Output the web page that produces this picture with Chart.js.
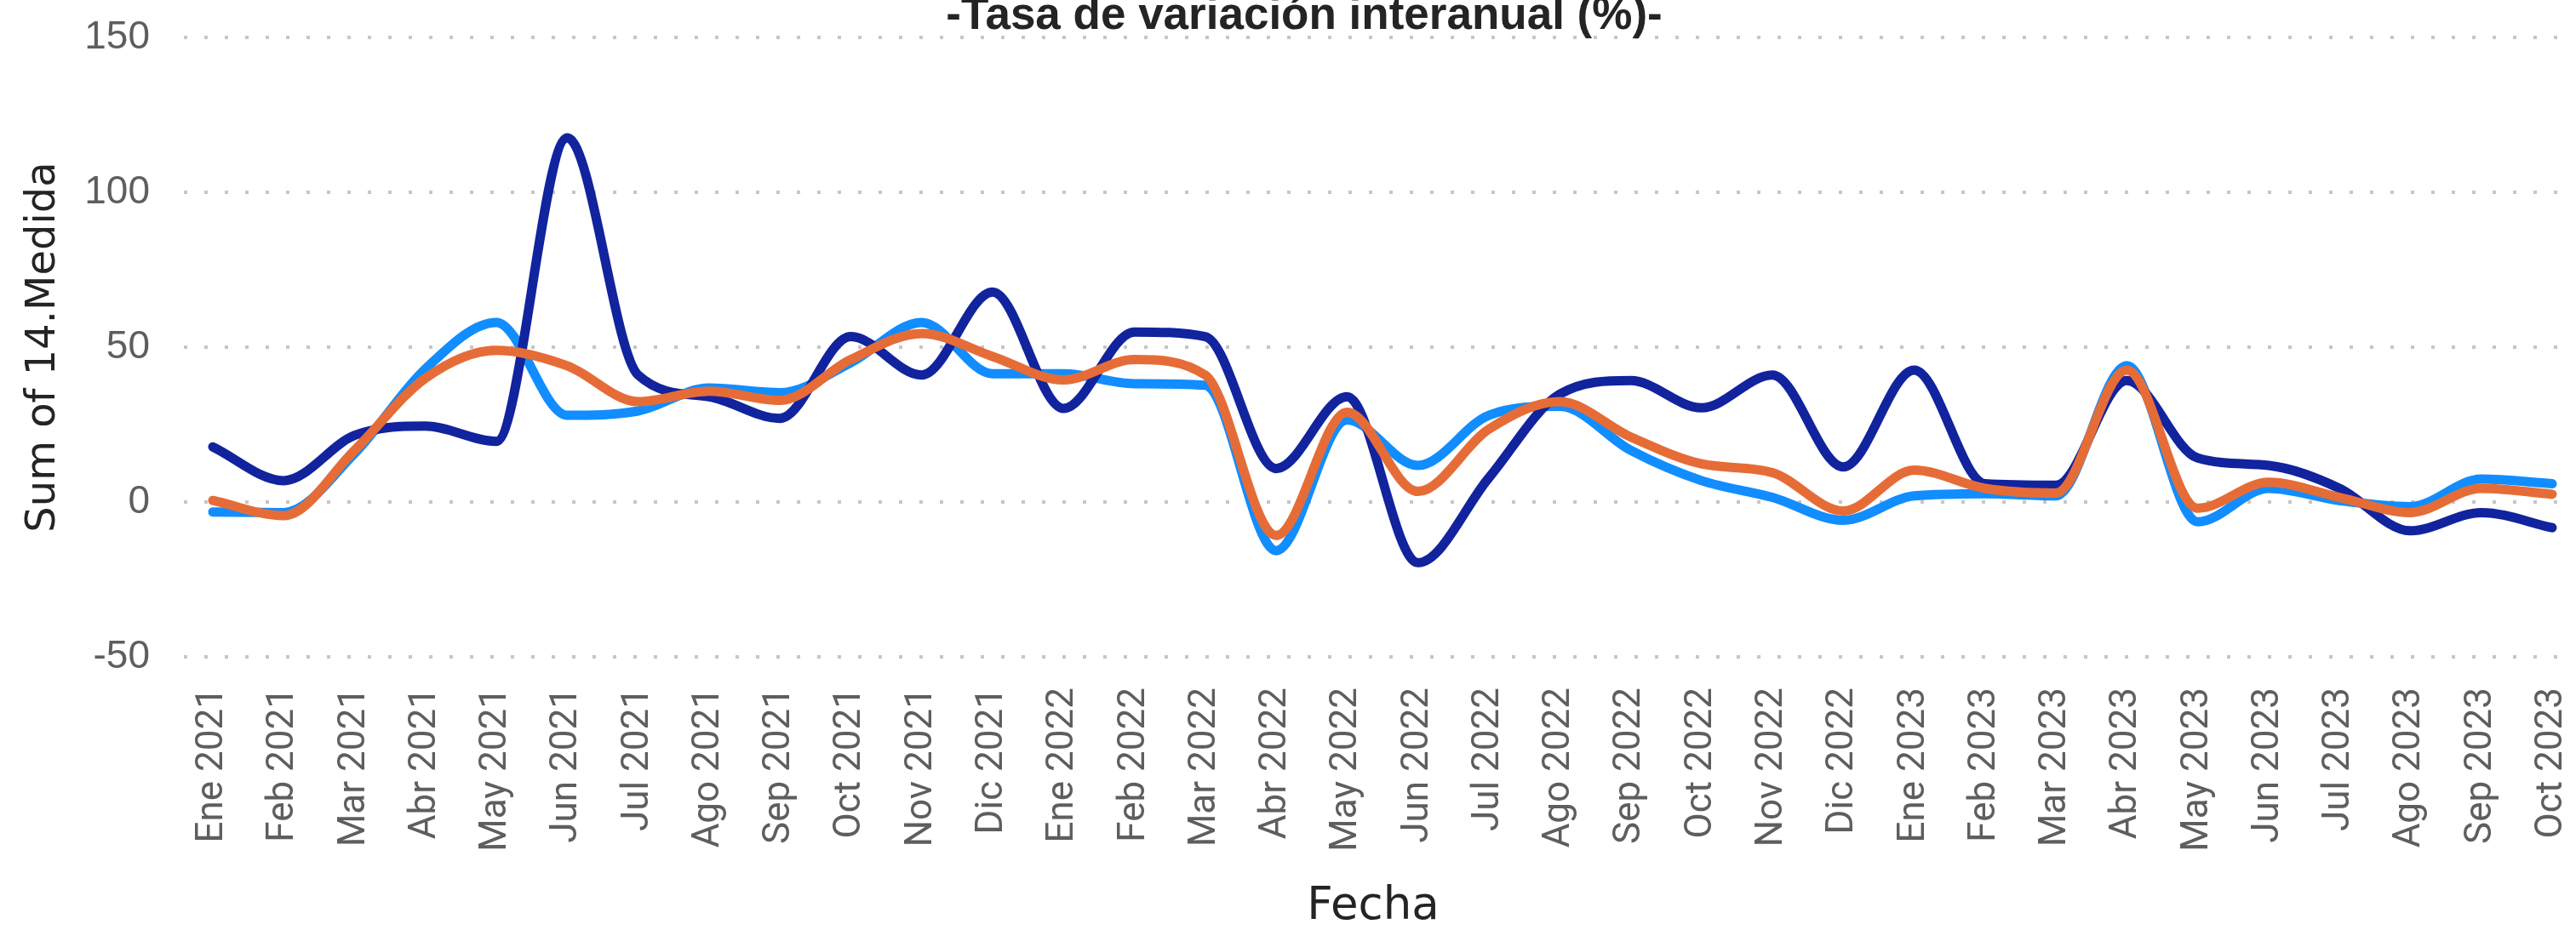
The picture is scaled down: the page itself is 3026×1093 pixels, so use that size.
<!DOCTYPE html>
<html>
<head>
<meta charset="utf-8">
<script src="https://cdn.jsdelivr.net/npm/chart.js@4.4.1/dist/chart.umd.min.js"></script>
<style>
    html, body { margin: 0; padding: 0; background: #ffffff; overflow: hidden; }
    #chart { display: block; }
</style>
</head>
<body>
<canvas id="chart" width="3026" height="1093"></canvas>
<script>
var chartTitle = "-Tasa de variación interanual (%)-";
var xTitle = "Fecha";
var yTitle = "Sum of 14.Medida";

var months = [
    "Ene 2021", "Feb 2021", "Mar 2021", "Abr 2021", "May 2021", "Jun 2021",
    "Jul 2021", "Ago 2021", "Sep 2021", "Oct 2021", "Nov 2021", "Dic 2021",
    "Ene 2022", "Feb 2022", "Mar 2022", "Abr 2022", "May 2022", "Jun 2022",
    "Jul 2022", "Ago 2022", "Sep 2022", "Oct 2022", "Nov 2022", "Dic 2022",
    "Ene 2023", "Feb 2023", "Mar 2023", "Abr 2023", "May 2023", "Jun 2023",
    "Jul 2023", "Ago 2023", "Sep 2023", "Oct 2023"
];

var yTicks = [-50, 0, 50, 100, 150];

// series
var serieOscura = [17.8, 6.9, 21.5, 24.5, 19.6, 117.6, 41, 34, 27, 53.4, 41, 67.8,
    30.2, 54.9, 53.4, 10.8, 34, -19.6, 7.8, 34.8, 39.2, 30.4, 41, 11.3,
    42.6, 5.9, 5.4, 39.2, 14.2, 11.8, 4.4, -9.3, -3.4, -8.3];

var serieClara = [-3.2, -3.4, 15.7, 43, 58, 28, 29.4, 36.8, 35.3, 45, 58, 41.4,
    41.4, 38.2, 37.7, -15.7, 26.5, 11.8, 28, 30.9, 16.7, 6.9, 1.5, -5.9,
    2, 2.7, 2, 44, -6.4, 4.4, 0.5, -1.5, 7.4, 5.9];

var serieNaranja = [0.5, -4.4, 16.7, 40, 49, 44, 32.4, 35.8, 32.8, 46, 54.4, 47,
    39.4, 46, 41, -10.8, 29, 3.4, 23.5, 32.4, 21, 12.3, 9.5, -2.9,
    10.3, 4.4, 2.9, 42.6, -2, 6.4, 1.5, -3.4, 4.4, 2.5];

function toPoints(values) {
    return values.map(function(v, i) { return { x: i, y: v }; });
}

function lineDataset(label, values, color) {
    return {
        label: label,
        data: toPoints(values),
        borderColor: color,
        backgroundColor: color,
        borderWidth: 11,
        pointRadius: 0,
        pointHoverRadius: 0,
        cubicInterpolationMode: 'monotone',
        borderCapStyle: 'round',
        borderJoinStyle: 'round',
        fill: false
    };
}

// title sits partly above the top edge, like in the report
var titlePlugin = {
    id: 'cutTitle',
    afterDraw: function(chart) {
        var ctx = chart.ctx;
        ctx.save();
        ctx.font = 'bold 53px "Liberation Sans", Arial, sans-serif';
        ctx.fillStyle = '#252423';
        ctx.textAlign = 'center';
        ctx.textBaseline = 'alphabetic';
        ctx.fillText(chartTitle, 1532, 34);
        ctx.restore();
    }
};

var ctx = document.getElementById("chart").getContext('2d');

new Chart(ctx, {
    type: 'line',
    data: {
        datasets: [
            lineDataset('Serie 3', serieNaranja, '#E66C37'),
            lineDataset('Serie 2', serieOscura, '#12239E'),
            lineDataset('Serie 1', serieClara, '#118DFF')
        ]
    },
    options: {
        responsive: false,
        animation: false,
        devicePixelRatio: 1,
        layout: { padding: { top: 44, right: 16, bottom: 0, left: 0 } },
        plugins: {
            legend: { display: false },
            tooltip: { enabled: false },
            title: { display: false }
        },
        scales: {
            x: {
                type: 'linear',
                min: -0.408,
                max: 33.144,
                afterBuildTicks: function(scale) {
                    scale.ticks = months.map(function(m, i) { return { value: i }; });
                },
                afterFit: function(scale) {
                    scale.height = 321;
                    scale.paddingLeft = 0;
                    scale.paddingRight = 0;
                },
                grid: { display: false },
                border: { display: false },
                ticks: {
                    autoSkip: false,
                    maxRotation: 90,
                    minRotation: 90,
                    padding: 28,
                    color: '#605E5C',
                    font: { family: 'Roboto', size: 44 },
                    callback: function(value) { return months[value]; }
                },
                title: {
                    display: true,
                    text: xTitle,
                    color: '#252423',
                    font: { family: '"DejaVu Sans"', size: 53, lineHeight: 1 },
                    padding: { top: 0, bottom: 0 }
                }
            },
            y: {
                min: -50,
                max: 150,
                afterBuildTicks: function(scale) {
                    scale.ticks = yTicks.map(function(v) { return { value: v }; });
                },
                afterFit: function(scale) {
                    scale.width = 216;
                    scale.paddingTop = 0;
                    scale.paddingBottom = 0;
                },
                grid: {
                    color: '#C8C6C4',
                    lineWidth: 4,
                    drawTicks: false
                },
                border: { display: false, dash: [4, 20] },
                ticks: {
                    padding: 40,
                    color: '#605E5C',
                    font: { family: '"Liberation Sans", Arial, sans-serif', size: 46 }
                },
                title: {
                    display: true,
                    text: yTitle,
                    color: '#252423',
                    font: { family: '"DejaVu Sans"', size: 48, lineHeight: 1 },
                    padding: { top: 28, bottom: 0 }
                }
            }
        }
    },
    plugins: [titlePlugin]
});
</script>
</body>
</html>
